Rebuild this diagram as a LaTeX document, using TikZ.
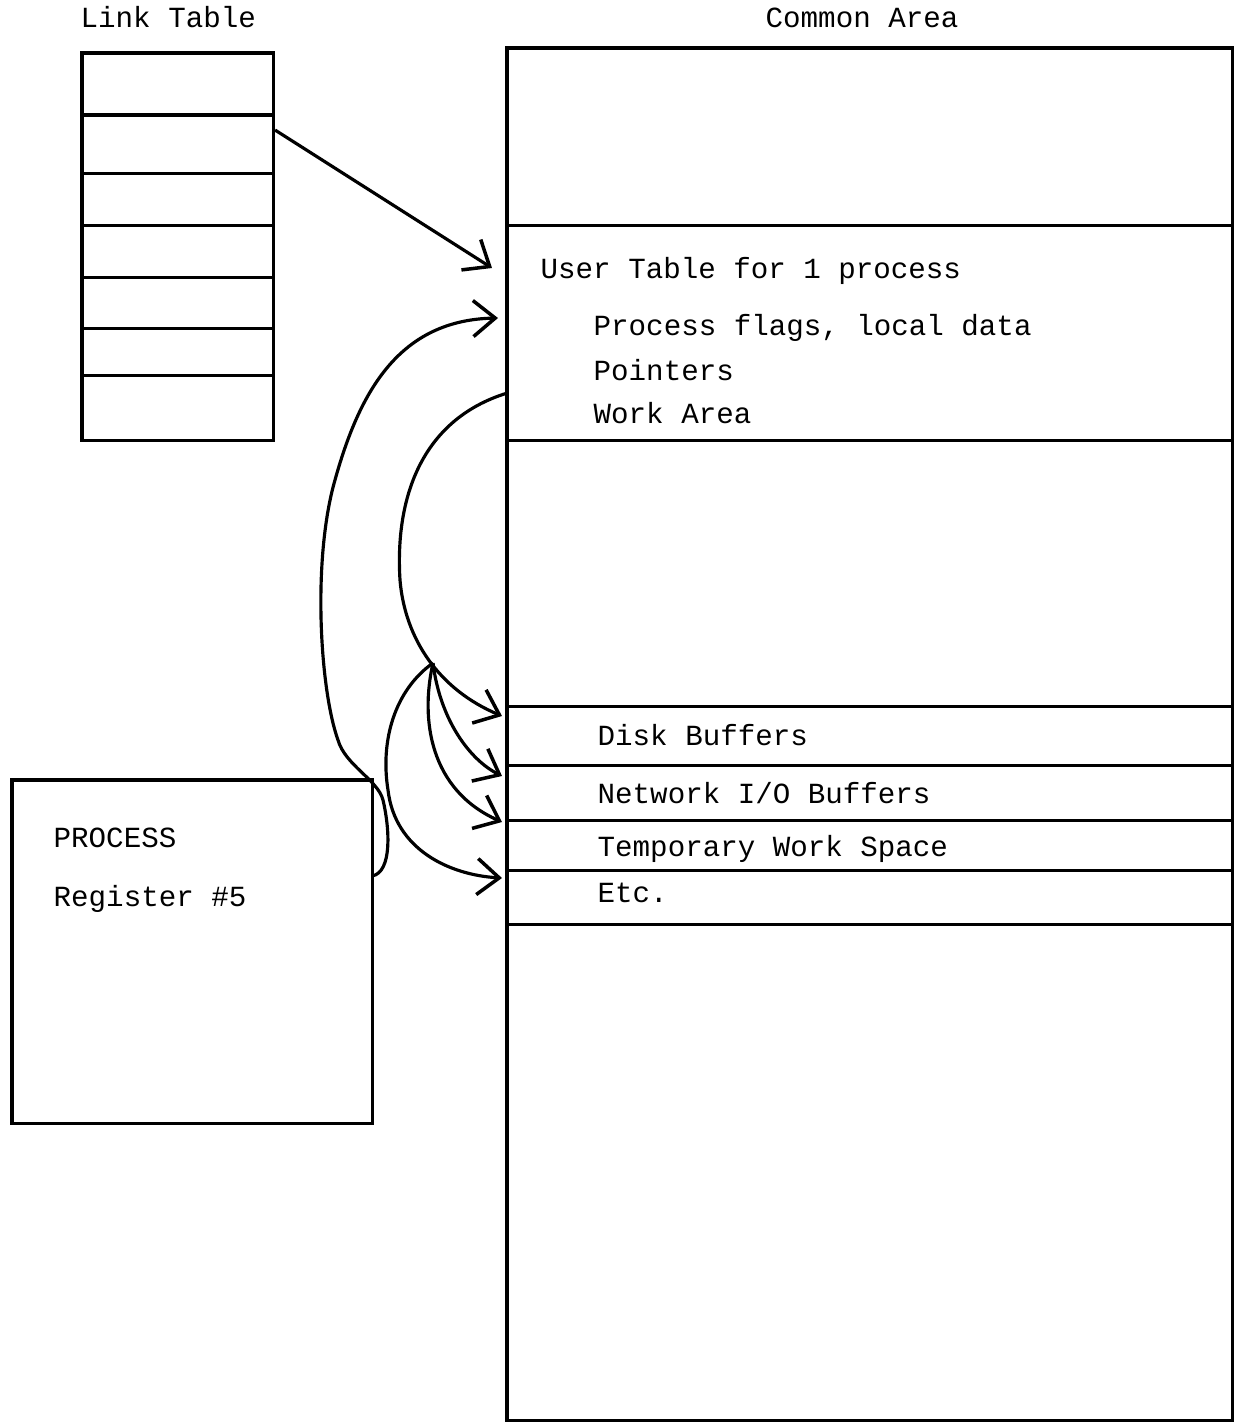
\documentclass[tikz,border=0pt]{standalone}
\usepackage{fontspec}
\setmonofont{Liberation Mono}
\usepackage{tikz}
\usetikzlibrary{arrows.meta,positioning,calc}
\tikzset{
  cell/.style={draw,line width=0.9pt,inner sep=0pt,outer sep=0pt},
  ltrow/.style={cell,minimum width=1.91cm},
  carow/.style={cell,minimum width=7.25cm},
  lbl/.style={font=\ttfamily\fontsize{8.3}{10}\selectfont,inner sep=0pt,anchor=base west},
  ptr/.style={line width=0.9pt,-{Straight Barb[length=2.2mm,width=3.6mm,line width=1pt]}},
}
\begin{document}
\begin{tikzpicture}[x=0.01cm,y=-0.01cm]
\useasboundingbox (0,0) rectangle (1235,1423);

% Link Table
\node[lbl] (ltlabel) at (80,27) {Link Table};
\node[ltrow,minimum height=0.62cm,anchor=north west] (lt1) at (82,53) {};
\node[ltrow,minimum height=0.58cm,below=0pt of lt1] (lt2) {};
\node[ltrow,minimum height=0.52cm,below=0pt of lt2] (lt3) {};
\node[ltrow,minimum height=0.52cm,below=0pt of lt3] (lt4) {};
\node[ltrow,minimum height=0.51cm,below=0pt of lt4] (lt5) {};
\node[ltrow,minimum height=0.47cm,below=0pt of lt5] (lt6) {};
\node[ltrow,minimum height=0.65cm,below=0pt of lt6] (lt7) {};

% Common Area
\node[lbl] (calabel) at (765,27) {Common Area};
\node[carow,minimum height=1.77cm,anchor=north west] (ca1) at (507,48) {};
\node[carow,minimum height=2.15cm,below=0pt of ca1] (ca2) {};
\node[carow,minimum height=2.66cm,below=0pt of ca2] (ca3) {};
\node[carow,minimum height=0.59cm,below=0pt of ca3] (ca4) {};
\node[carow,minimum height=0.55cm,below=0pt of ca4] (ca5) {};
\node[carow,minimum height=0.50cm,below=0pt of ca5] (ca6) {};
\node[carow,minimum height=0.54cm,below=0pt of ca6] (ca7) {};
\node[carow,minimum height=4.96cm,below=0pt of ca7] (ca8) {};

% user table text
\node[lbl] (utab) at (540,278) {User Table for 1 process};
\node[lbl] (uflags) at (593,335) {Process flags, local data};
\node[lbl] (uptr) at (593,380) {Pointers};
\node[lbl] (uwork) at (593,423) {Work Area};

% buffers
\node[lbl] (disk) at (597,745) {Disk Buffers};
\node[lbl] (netio) at (597,803) {Network I/O Buffers};
\node[lbl] (temp) at (597,856) {Temporary Work Space};
\node[lbl] (etc) at (597,902) {Etc.};

% Process box
\node[cell,minimum width=3.6cm,minimum height=3.43cm,anchor=north west] (proc) at (12,780) {};
\node[lbl] (pname) at (53,847) {PROCESS};
\node[lbl] (preg) at (53,906) {Register \#5};

% arrow ends
\coordinate (tUser) at (492,268);
\coordinate (tFlags) at (498,318);
\coordinate (tDisk) at (502,716);
\coordinate (tNet) at (502,776);
\coordinate (tTemp) at (502,822);
\coordinate (tEtc) at (502,878);
\coordinate (regOut) at ($(proc.north east)+(0,96)$);
\coordinate (workOut) at ($(ca2.north west)+(0,168)$);
\coordinate (fork) at (433,663);

% link table -> user table
\draw[ptr] ($(lt2.east)+(2,-14)$) -- (tUser);

% register -> user table
\draw[ptr] (regOut) .. controls (392,872) and (390,830) .. (383,800)
  .. controls (378,780) and (345,765) .. (338,740)
  .. controls (320,690) and (312,560) .. (335,480)
  .. controls (360,390) and (400,320) .. (tFlags);

% work area -> buffers
\draw[ptr] (workOut) .. controls (420,420) and (395,500) .. (400,580)
  .. controls (405,640) and (440,690) .. (tDisk);
\draw[ptr] (fork) .. controls (440,720) and (470,760) .. (tNet);
\draw[ptr] (fork) .. controls (420,720) and (430,790) .. (tTemp);
\draw[ptr] (fork) .. controls (395,690) and (380,740) .. (388,790)
  .. controls (395,850) and (450,875) .. (tEtc);
\end{tikzpicture}
\end{document}
